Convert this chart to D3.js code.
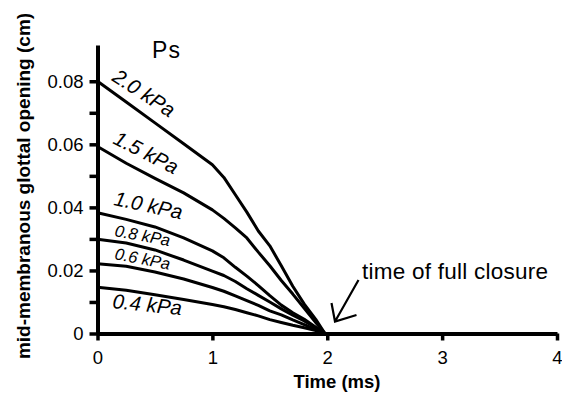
<!DOCTYPE html>
<html>
<head>
<meta charset="utf-8">
<script src="https://cdn.jsdelivr.net/npm/d3@7"></script>
<style>
  body { margin: 0; background: #fff; }
  svg { display: block; }
  text { font-family: "Liberation Sans", Arial, sans-serif; fill: #000; }
</style>
</head>
<body>
<div id="chart"></div>
<script>
// time points (ms) shared by every curve
var times = [0, 0.25, 0.5, 0.75, 1.0, 1.1, 1.2, 1.3, 1.4, 1.5, 1.6, 1.7, 1.8, 1.9, 1.98];

// mid-membranous glottal opening (cm) for each subglottal pressure
var ps20 = [0.080, 0.0734, 0.0668, 0.0602, 0.0535, 0.0495, 0.0440, 0.0385, 0.0325, 0.0278, 0.0215, 0.0150, 0.0093, 0.0045, 0];
var ps15 = [0.0593, 0.0540, 0.0492, 0.0446, 0.0392, 0.0365, 0.0335, 0.0303, 0.0258, 0.0215, 0.0168, 0.0125, 0.0080, 0.0035, 0];
var ps10 = [0.0383, 0.0362, 0.0338, 0.0303, 0.0262, 0.0240, 0.0210, 0.0182, 0.0152, 0.0120, 0.0090, 0.0066, 0.0045, 0.0020, 0];
var ps08 = [0.0299, 0.0287, 0.0265, 0.0233, 0.0198, 0.0184, 0.0165, 0.0142, 0.0121, 0.0100, 0.0078, 0.0058, 0.0040, 0.0018, 0];
var ps06 = [0.0221, 0.0213, 0.0195, 0.0173, 0.0146, 0.0134, 0.0119, 0.0104, 0.0089, 0.0072, 0.0059, 0.0043, 0.0028, 0.0012, 0];
var ps04 = [0.0147, 0.0137, 0.0123, 0.0108, 0.0092, 0.0085, 0.0076, 0.0066, 0.0056, 0.0044, 0.0035, 0.0026, 0.0018, 0.0009, 0];

var seriesNames = ["2.0 kPa", "1.5 kPa", "1.0 kPa", "0.8 kPa", "0.6 kPa", "0.4 kPa"];
var seriesValues = [ps20, ps15, ps10, ps08, ps06, ps04];

var xTicks = [0, 1, 2, 3, 4];
var yTicks = [0, 0.01, 0.02, 0.03, 0.04, 0.05, 0.06, 0.07, 0.08];
var yLabels = ["0", "", "0.02", "", "0.04", "", "0.06", "", "0.08"];

var width = 562, height = 395;

var svg = d3.select("#chart")
  .append("svg")
    .attr("width", width)
    .attr("height", height);

var x = d3.scaleLinear().domain([0, 4]).range([97.5, 557]);
var y = d3.scaleLinear().domain([0, 0.0915]).range([333.5, 45]);

// curves
var line = d3.line()
  .x(function(d) { return x(d[0]); })
  .y(function(d) { return y(d[1]); });

svg.selectAll("path.curve")
  .data(seriesValues)
  .enter()
  .append("path")
    .attr("class", "curve")
    .attr("d", function(vals) { return line(times.map(function(t, i) { return [t, vals[i]]; })); })
    .attr("fill", "none")
    .attr("stroke", "#000")
    .attr("stroke-width", 3)
    .attr("stroke-linejoin", "round");

// axes
var xAxis = svg.append("g")
  .attr("transform", "translate(0," + y(0) + ")")
  .call(d3.axisBottom(x).tickValues(xTicks).tickFormat(d3.format("d")).tickSize(7).tickSizeOuter(0).tickPadding(10));

var yAxis = svg.append("g")
  .attr("transform", "translate(" + x(0) + ",0)")
  .call(d3.axisLeft(y).tickValues(yTicks).tickFormat(function(d, i) { return yLabels[i]; }).tickSize(8).tickSizeOuter(0).tickPadding(6));

[xAxis, yAxis].forEach(function(g) {
  g.select(".domain").attr("stroke", "#000").attr("stroke-width", 4);
  g.selectAll(".tick line").attr("stroke", "#000").attr("stroke-width", 3.5);
  g.selectAll(".tick text").attr("font-size", 18.5).attr("font-family", "Liberation Sans, Arial, sans-serif").attr("fill", "#000");
});

// axis titles
svg.append("text")
  .attr("x", 337)
  .attr("y", 388)
  .attr("text-anchor", "middle")
  .attr("font-size", 18.5)
  .attr("font-weight", "bold")
  .text("Time (ms)");

svg.append("text")
  .attr("transform", "translate(30,186) rotate(-90)")
  .attr("text-anchor", "middle")
  .attr("font-size", 19)
  .attr("font-weight", "bold")
  .text("mid-membranous glottal opening (cm)");

// series labels
var labelPos = [
  { x: 111, y: 80, a: 33, s: 20.5 },
  { x: 112, y: 143, a: 27, s: 20.5 },
  { x: 113, y: 205, a: 12, s: 20.5 },
  { x: 114, y: 236, a: 10.5, s: 16.5 },
  { x: 114, y: 259, a: 11, s: 16.5 },
  { x: 112, y: 308, a: 6, s: 20.5 }
];

svg.selectAll("text.lab")
  .data(seriesNames)
  .enter()
  .append("text")
    .attr("class", "lab")
    .attr("transform", function(d, i) { var p = labelPos[i]; return "translate(" + p.x + "," + p.y + ") rotate(" + p.a + ")"; })
    .attr("font-size", function(d, i) { return labelPos[i].s; })
    .attr("font-style", "italic")
    .text(function(d) { return d; });

svg.append("text")
  .attr("x", 152)
  .attr("y", 58)
  .attr("font-size", 23)
  .attr("textLength", 28)
  .text("Ps");

// closure annotation
svg.append("text")
  .attr("x", 362)
  .attr("y", 279)
  .attr("font-family", "Open Sans, sans-serif")
  .attr("font-size", 22.5)
  .attr("textLength", 186)
  .attr("lengthAdjust", "spacing")
  .text("time of full closure");

var tip = [335, 321.5];
svg.append("path")
  .attr("d", "M358.5,280 L" + tip + " M331.5,303 L" + tip + " L356.5,315")
  .attr("fill", "none")
  .attr("stroke", "#000")
  .attr("stroke-width", 2.2);
</script>
</body>
</html>
